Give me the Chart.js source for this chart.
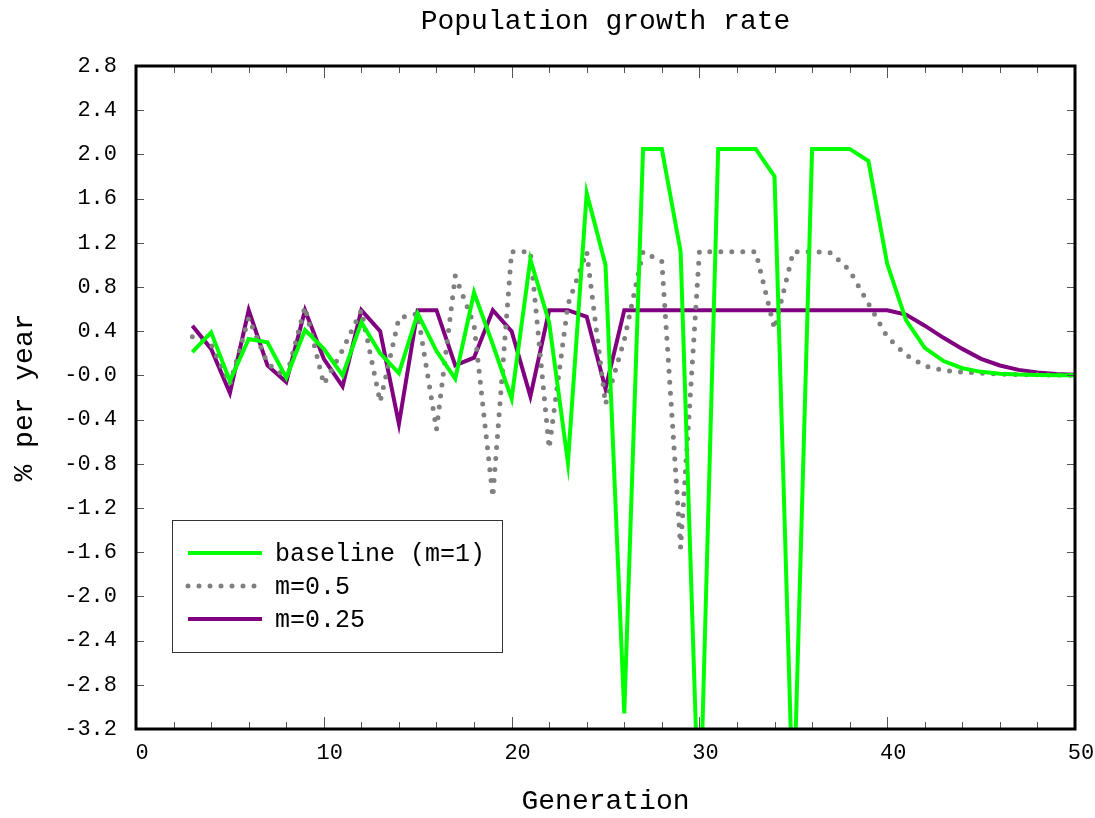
<!DOCTYPE html>
<html>
<head>
<meta charset="utf-8">
<script src="https://cdn.jsdelivr.net/npm/chart.js@4.4.1/dist/chart.umd.min.js"></script>
<style>
  html, body { margin: 0; padding: 0; background: #ffffff; }
  canvas { display: block; }
</style>
</head>
<body>
<canvas id="c" width="1095" height="818"></canvas>
<script>
// ---- data ----
const generations = [3,4,5,6,7,8,9,10,11,12,13,14,15,16,17,18,19,20,21,22,23,24,25,26,
  27,28,29,30,31,32,33,34,35,36,37,38,39,40,41,42,43,44,45,46,47,48,49,50];

const baseline = [0.21,0.39,-0.05,0.33,0.30,-0.02,0.41,0.24,0.00,0.48,0.20,0.02,0.56,0.22,-0.03,0.75,
  0.28,-0.21,1.05,0.48,-0.79,1.65,1.00,-3.06,2.05,2.05,1.12,-4.20,2.05,2.05,2.05,1.80,-4.00,2.05,
  2.05,2.05,1.94,1.01,0.50,0.25,0.13,0.065,0.032,0.016,0.008,0.004,0.002,0.001];

const m05 = [0.35,0.28,-0.08,0.52,0.11,-0.02,0.62,-0.08,0.23,0.59,-0.24,0.52,0.56,-0.49,0.90,0.46,
  -1.10,1.12,1.12,-0.66,0.64,1.12,-0.26,0.32,1.12,1.03,-1.56,1.12,1.12,1.12,1.12,0.42,1.12,1.12,
  1.11,0.95,0.65,0.35,0.185,0.085,0.045,0.03,0.02,0.012,0.008,0.005,0.003,0.002];

const m025 = [0.45,0.24,-0.16,0.59,0.09,-0.06,0.59,0.15,-0.10,0.59,0.40,-0.44,0.59,0.59,0.09,0.16,
  0.59,0.40,-0.19,0.59,0.59,0.53,-0.12,0.59,0.59,0.59,0.59,0.59,0.59,0.59,0.59,0.59,0.59,0.59,
  0.59,0.59,0.59,0.59,0.55,0.45,0.34,0.24,0.15,0.09,0.05,0.027,0.013,0.006];

const seriesNames = ['baseline (m=1)', 'm=0.5', 'm=0.25'];
const chartTitle = 'Population growth rate';

const xTickValues = [0,10,20,30,40,50];
const xTickLabels = ['0','10','20','30','40','50'];
const yTickValues = [-3.2,-2.8,-2.4,-2.0,-1.6,-1.2,-0.8,-0.4,0,0.4,0.8,1.2,1.6,2.0,2.4,2.8];
const yTickLabels = ['-3.2','-2.8','-2.4','-2.0','-1.6','-1.2','-0.8','-0.4','-0.0','0.4','0.8','1.2','1.6','2.0','2.4','2.8'];

const FONT = "'Liberation Mono', 'DejaVu Sans Mono', monospace";

function pts(vals) { return generations.map((g, i) => ({ x: g, y: vals[i] })); }

// frame + inward ticks + legend box
const framePlugin = {
  id: 'frame',
  afterDatasetsDraw(chart) {
    const { ctx, chartArea: a, scales: { x, y } } = chart;
    ctx.save();
    ctx.strokeStyle = '#555555';
    ctx.lineWidth = 1;
    ctx.beginPath();
    for (let v = 0; v <= 50; v += 2) {
      const px = Math.round(x.getPixelForValue(v)) + 0.5;
      const len = (v % 10 === 0) ? 12 : 7;
      ctx.moveTo(px, a.bottom); ctx.lineTo(px, a.bottom - len);
      ctx.moveTo(px, a.top); ctx.lineTo(px, a.top + len);
    }
    yTickValues.forEach(v => {
      const py = Math.round(y.getPixelForValue(v)) + 0.5;
      ctx.moveTo(a.left, py); ctx.lineTo(a.left + 8, py);
      ctx.moveTo(a.right, py); ctx.lineTo(a.right - 8, py);
    });
    ctx.stroke();
    ctx.strokeStyle = '#000000';
    ctx.lineWidth = 3;
    ctx.strokeRect(a.left, a.top, a.right - a.left, a.bottom - a.top);
    ctx.restore();
  },
  afterDraw(chart) {
    const { ctx } = chart;
    const bx = 172, by = 520, bw = 330, bh = 132;
    ctx.save();
    ctx.fillStyle = '#ffffff';
    ctx.fillRect(bx, by, bw, bh);
    ctx.strokeStyle = '#333333';
    ctx.lineWidth = 1;
    ctx.strokeRect(bx + 0.5, by + 0.5, bw, bh);
    ctx.font = '25px ' + FONT;
    ctx.textBaseline = 'middle';
    ctx.textAlign = 'left';
    chart.data.datasets.forEach((ds, i) => {
      const yy = by + 33 + i * 33;
      ctx.strokeStyle = ds.borderColor;
      ctx.lineWidth = ds.borderWidth;
      ctx.lineCap = ds.borderCapStyle || 'butt';
      ctx.setLineDash(ds.borderDash || []);
      ctx.beginPath();
      ctx.moveTo(188, yy); ctx.lineTo(262, yy);
      ctx.stroke();
      ctx.setLineDash([]);
      ctx.fillStyle = '#000000';
      ctx.fillText(ds.label, 275, yy + 1);
    });
    ctx.restore();
  }
};

new Chart(document.getElementById('c'), {
  type: 'line',
  data: {
    datasets: [
      { label: seriesNames[0], data: pts(baseline), borderColor: '#00ff00', borderWidth: 4,
        pointRadius: 0, tension: 0, fill: false, borderJoinStyle: 'miter' },
      { label: seriesNames[1], data: pts(m05), borderColor: '#808080', borderWidth: 5,
        borderDash: [0, 11], borderCapStyle: 'round', pointRadius: 0, tension: 0, fill: false },
      { label: seriesNames[2], data: pts(m025), borderColor: '#800080', borderWidth: 4,
        pointRadius: 0, tension: 0, fill: false, borderJoinStyle: 'miter' }
    ]
  },
  options: {
    responsive: false,
    animation: false,
    layout: { padding: { left: 0, right: 20, top: 0, bottom: 0 } },
    plugins: {
      legend: { display: false },
      tooltip: { enabled: false },
      title: { display: false }
    },
    scales: {
      xTop: {
        type: 'linear',
        position: 'top',
        min: 0, max: 50,
        grid: { display: false },
        border: { display: false },
        ticks: { display: false },
        afterFit(scale) { scale.height = 66; },
        title: {
          display: true,
          text: chartTitle,
          color: '#000000',
          font: { family: FONT, size: 28 },
          padding: { top: 5, bottom: 0 }
        }
      },
      x: {
        type: 'linear',
        position: 'bottom',
        min: 0, max: 50,
        grid: { display: false },
        border: { display: false },
        afterBuildTicks(scale) { scale.ticks = xTickValues.map(v => ({ value: v })); },
        afterFit(scale) { scale.height = 89; },
        ticks: {
          color: '#000000',
          font: { family: FONT, size: 22 },
          padding: 3,
          labelOffset: 6,
          maxRotation: 0,
          callback: (v, i) => xTickLabels[i]
        },
        title: {
          display: true,
          text: 'Generation',
          color: '#000000',
          font: { family: FONT, size: 28 },
          padding: { top: 0, bottom: 0 }
        }
      },
      y: {
        type: 'linear',
        min: -3.2, max: 2.8,
        grid: { display: false },
        border: { display: false },
        afterBuildTicks(scale) { scale.ticks = yTickValues.map(v => ({ value: v })); },
        afterFit(scale) { scale.width = 136; },
        ticks: {
          color: '#000000',
          font: { family: FONT, size: 22 },
          padding: 11,
          callback: (v, i) => yTickLabels[i]
        },
        title: {
          display: true,
          text: '% per year',
          color: '#000000',
          font: { family: FONT, size: 28 },
          padding: { top: 8, bottom: 0 }
        }
      }
    }
  },
  plugins: [framePlugin]
});
</script>
</body>
</html>
